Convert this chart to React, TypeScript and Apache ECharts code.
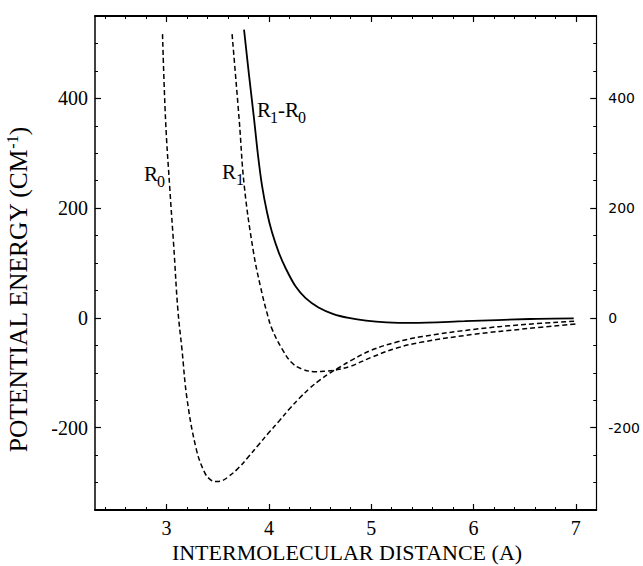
import React, { useEffect, useRef } from "react";
import * as echarts from "echarts";

const X_MIN = 2.3;
const X_MAX = 7.2;
const Y_MIN = -350;
const Y_MAX = 550;

const xMajorTicks = [3, 4, 5, 6, 7];
const xMinorTicks = [2.4, 2.6, 2.8, 3.2, 3.4, 3.6, 3.8, 4.2, 4.4, 4.6, 4.8, 5.2, 5.4, 5.6, 5.8, 6.2, 6.4, 6.6, 6.8];
const yMajorTicks = [-200, 0, 200, 400];
const yMinorTicks = [-300, -250, -150, -100, -50, 50, 100, 150, 250, 300, 350, 450, 500];

// R0 curve (dashed)
const r0X = [2.96, 2.99, 3.03, 3.07, 3.11, 3.15, 3.2, 3.29, 3.37, 3.43, 3.49, 3.55, 3.6, 3.7, 3.8, 3.9, 4.0, 4.1, 4.2, 4.3, 4.4, 4.5, 4.6, 4.7, 4.8, 5.0, 5.25, 5.5, 6.0, 6.5, 7.0];
const r0Y = [517, 360, 239, 130, 15, -57, -148, -239, -281, -295, -298, -296, -290, -274, -253, -231, -209, -188, -166, -146, -128, -113, -100, -89, -78, -59, -44, -34, -21, -12, -6];

// R1 curve (dashed)
const r1X = [3.64, 3.71, 3.76, 3.85, 3.92, 3.98, 4.03, 4.13, 4.22, 4.32, 4.46, 4.55, 4.65, 4.8, 5.0, 5.25, 5.5, 6.0, 6.5, 7.0];
const r1Y = [517, 360, 239, 119, 55, 10, -20, -57, -81, -93, -98, -97, -95, -88, -72, -55, -44, -30, -20, -11];

// R1-R0 difference (solid)
const dX = [3.757, 3.806, 3.854, 3.893, 3.932, 3.981, 4.029, 4.097, 4.165, 4.262, 4.359, 4.485, 4.631, 4.78, 4.95, 5.15, 5.4, 5.913, 6.553, 6.98];
const dY = [525, 442, 364, 297, 242, 193, 157, 119, 90, 57, 36, 19, 7, 0, -5, -8, -9, -6, -2, -1];

const zip = (xs: number[], ys: number[]) => xs.map((x, i) => [x, ys[i]]);

const SERIF = "Liberation Serif";
const SANS = "DejaVu Sans";

export default function App() {
  const ref = useRef<HTMLDivElement>(null);
  useEffect(() => {
    if (!ref.current) return;
    const chart = echarts.init(ref.current, null, { renderer: "svg" });
    const xBase = {
      type: "value" as const,
      min: X_MIN,
      max: X_MAX,
      splitLine: { show: false },
    };
    const yBase = {
      type: "value" as const,
      min: Y_MIN,
      max: Y_MAX,
      splitLine: { show: false },
    };
    const dashed = { color: "#000", width: 1.5, type: [5, 3] as any };
    chart.setOption({
      animation: false,
      backgroundColor: "#fff",
      grid: { left: 95, right: 44, top: 16, bottom: 56, containLabel: false },
      xAxis: [
        {
          ...xBase,
          position: "bottom",
          axisLine: { show: true, onZero: false, lineStyle: { color: "#000", width: 2 } },
          axisTick: { show: true, inside: true, length: 6, customValues: xMajorTicks, lineStyle: { color: "#000", width: 1.2 } },
          axisLabel: { show: true, customValues: xMajorTicks, fontFamily: SERIF, fontSize: 20, color: "#000", margin: 8 },
        },
        {
          ...xBase,
          position: "bottom",
          axisLine: { show: false, onZero: false },
          axisTick: { show: true, inside: true, length: 3, customValues: xMinorTicks, lineStyle: { color: "#000", width: 1 } },
          axisLabel: { show: false },
        },
        {
          ...xBase,
          position: "top",
          axisLine: { show: true, onZero: false, lineStyle: { color: "#000", width: 2 } },
          axisTick: { show: true, inside: true, length: 6, customValues: xMajorTicks, lineStyle: { color: "#000", width: 1.2 } },
          axisLabel: { show: false },
        },
        {
          ...xBase,
          position: "top",
          axisLine: { show: false, onZero: false },
          axisTick: { show: true, inside: true, length: 3, customValues: xMinorTicks, lineStyle: { color: "#000", width: 1 } },
          axisLabel: { show: false },
        },
      ],
      yAxis: [
        {
          ...yBase,
          position: "left",
          axisLine: { show: true, onZero: false, lineStyle: { color: "#000", width: 1.5 } },
          axisTick: { show: true, inside: true, length: 6, customValues: yMajorTicks, lineStyle: { color: "#000", width: 1.2 } },
          axisLabel: { show: true, customValues: yMajorTicks, fontFamily: SERIF, fontSize: 20, color: "#000", margin: 7 },
        },
        {
          ...yBase,
          position: "left",
          axisLine: { show: false, onZero: false },
          axisTick: { show: true, inside: true, length: 3, customValues: yMinorTicks, lineStyle: { color: "#000", width: 1 } },
          axisLabel: { show: false },
        },
        {
          ...yBase,
          position: "right",
          axisLine: { show: true, onZero: false, lineStyle: { color: "#000", width: 1.2 } },
          axisTick: { show: true, inside: true, length: 6, customValues: yMajorTicks, lineStyle: { color: "#000", width: 1.2 } },
          axisLabel: { show: true, customValues: yMajorTicks, fontFamily: SANS, fontSize: 14, color: "#000", margin: 12 },
        },
        {
          ...yBase,
          position: "right",
          axisLine: { show: false, onZero: false },
          axisTick: { show: true, inside: true, length: 3, customValues: yMinorTicks, lineStyle: { color: "#000", width: 1 } },
          axisLabel: { show: false },
        },
      ],
      series: [
        {
          name: "R0",
          type: "line",
          xAxisIndex: 0,
          yAxisIndex: 0,
          data: zip(r0X, r0Y),
          smooth: 0.4,
          showSymbol: false,
          lineStyle: dashed,
        },
        {
          name: "R1",
          type: "line",
          xAxisIndex: 0,
          yAxisIndex: 0,
          data: zip(r1X, r1Y),
          smooth: 0.4,
          showSymbol: false,
          lineStyle: dashed,
        },
        {
          name: "R1-R0",
          type: "line",
          xAxisIndex: 0,
          yAxisIndex: 0,
          data: zip(dX, dY),
          smooth: 0.3,
          showSymbol: false,
          lineStyle: { color: "#000", width: 1.8, type: "solid" },
        },
      ],
      graphic: [
        {
          type: "text",
          x: 347,
          y: 552,
          style: {
            text: "INTERMOLECULAR DISTANCE (A)",
            fontFamily: SERIF,
            fontSize: 22,
            fill: "#000",
            align: "center",
            verticalAlign: "middle",
          },
        },
        {
          type: "text",
          x: 18,
          y: 290,
          rotation: Math.PI / 2,
          style: {
            text: "{a|POTENTIAL ENERGY (CM}{b|-1}{a|)}",
            align: "center",
            verticalAlign: "middle",
            rich: {
              a: { fontFamily: SERIF, fontSize: 25.5, fill: "#000", lineHeight: 28 },
              b: { fontFamily: SERIF, fontSize: 16, fill: "#000", verticalAlign: "top", lineHeight: 28, padding: [0, 0, 12, 0] },
            },
          },
        },
        // R0 label
        { type: "text", x: 144, y: 174, style: { text: "R", fontFamily: SERIF, fontSize: 21, fill: "#000", verticalAlign: "middle" } },
        { type: "text", x: 157, y: 181, style: { text: "0", fontFamily: SERIF, fontSize: 16, fill: "#000", verticalAlign: "middle" } },
        // R1 label
        { type: "text", x: 222, y: 172, style: { text: "R", fontFamily: SERIF, fontSize: 21, fill: "#000", verticalAlign: "middle" } },
        { type: "text", x: 236, y: 179, style: { text: "1", fontFamily: SERIF, fontSize: 16, fill: "#000", verticalAlign: "middle" } },
        // R1-R0 label
        { type: "text", x: 257, y: 110, style: { text: "R", fontFamily: SERIF, fontSize: 21, fill: "#000", verticalAlign: "middle" } },
        { type: "text", x: 270, y: 117, style: { text: "1", fontFamily: SERIF, fontSize: 16, fill: "#000", verticalAlign: "middle" } },
        { type: "text", x: 278, y: 110, style: { text: "-R", fontFamily: SERIF, fontSize: 21, fill: "#000", verticalAlign: "middle" } },
        { type: "text", x: 298, y: 117, style: { text: "0", fontFamily: SERIF, fontSize: 16, fill: "#000", verticalAlign: "middle" } },
      ],
    });
    return () => chart.dispose();
  }, []);
  return (
    <div
      ref={ref}
      style={{ position: "fixed", left: 0, top: 0, width: 643, height: 566, background: "#fff" }}
    />
  );
}
